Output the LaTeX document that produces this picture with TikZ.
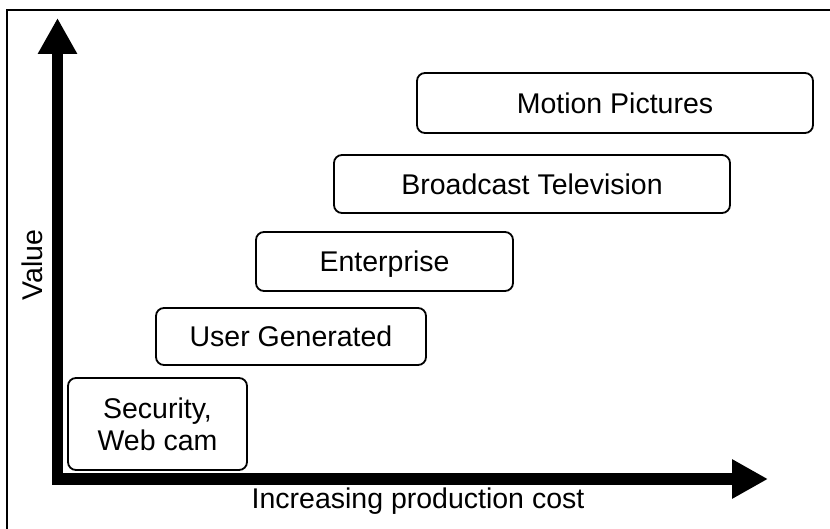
\documentclass[tikz,border=0pt]{standalone}
\usepackage{fontspec}
\setmainfont{Liberation Sans}
\usetikzlibrary{arrows.meta}
\begin{document}
\begin{tikzpicture}[x=1pt,y=-1pt,
  box/.style={draw=black, line width=1.8pt, rounded corners=8pt, inner sep=0pt,
    font=\fontsize{28.5}{32}\selectfont},
  onel/.style={text height=20.4pt, text depth=0pt},
  lbl/.style={font=\fontsize{28.5}{32}\selectfont, inner sep=0pt},
  axis/.style={line width=11.5pt, line join=miter, -{Triangle[width=37pt,length=36pt]}}]
\useasboundingbox (0,0) rectangle (830,529);
\fill[white] (0,0) rectangle (830,529);
\draw[line width=1.8pt] (7,540) -- (7,10) -- (840,10);
% axes
\coordinate (ytip) at (57.5,18);
\coordinate (corner) at (57.5,479);
\coordinate (xtip) at (768,479);
\draw[axis] (corner) -- (ytip);
\draw[line width=11.5pt, line cap=rect] (corner) -- ++(20,0);
\draw[axis] (corner) -- (xtip);
% boxes
\node[box, minimum width=179pt, minimum height=92pt, align=center]
  (sec) at (157.5,424) {Security,\\Web cam};
\node[box, onel, minimum width=270pt, minimum height=57pt] (ugc) at (291,336.5) {User Generated};
\node[box, onel, minimum width=257pt, minimum height=59pt] (ent) at (384.5,261.5) {Enterprise};
\node[box, onel, minimum width=396pt, minimum height=58pt] (btv) at (532,184) {Broadcast Television};
\node[box, onel, minimum width=396pt, minimum height=60pt] (mp) at (615,103) {Motion Pictures};
% axis labels
\node[lbl, rotate=90] (val) at (32,265) {Value};
\node[lbl, anchor=base] (cost) at (418,508) {Increasing production cost};
\end{tikzpicture}
\end{document}
